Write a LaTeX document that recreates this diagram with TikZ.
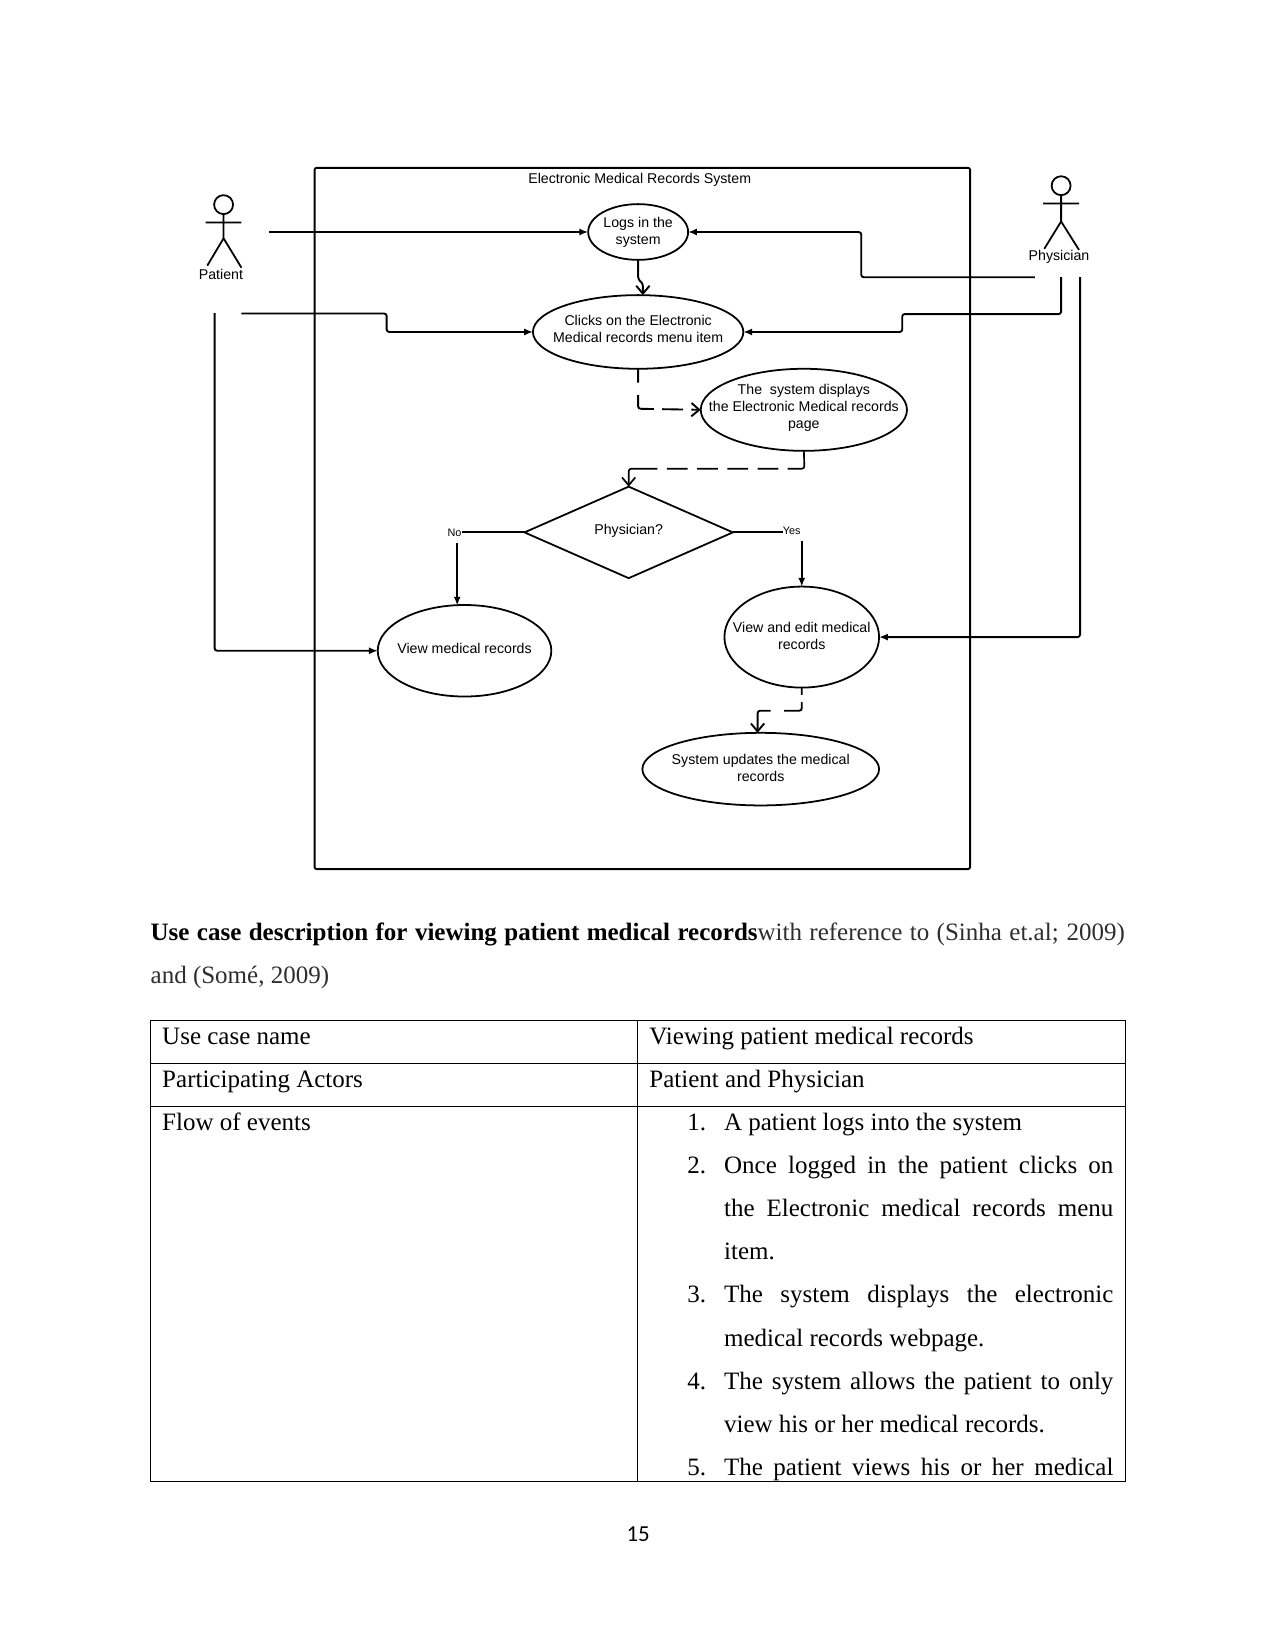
\documentclass[tikz,border=0pt]{standalone}
\usepackage{fontspec}
\usetikzlibrary{arrows.meta,shapes.geometric}
\setmainfont{Liberation Serif}
\newfontfamily\diagfont{Liberation Sans}
\newfontfamily\folio{Carlito}
\newlength\pxu
\setlength\pxu{0.50495pt}
\definecolor{bodygray}{HTML}{2E2E2E}
\tikzset{
  x=\pxu, y=-\pxu,
  diagline/.style={line width=0.9pt, rounded corners=1.2pt},
  caseshape/.style={draw, line width=0.85pt, ellipse, inner sep=0pt, outer sep=0pt},
  casetext/.style={font=\diagfont\fontsize{6.8}{8.1}\selectfont, align=center, inner sep=0pt},
  choicetext/.style={font=\diagfont\fontsize{5.2}{6}\selectfont, inner sep=0pt},
  solidhead/.style={-{Latex[length=4.2pt,width=3.4pt]}},
  openhead/.style={-{Straight Barb[length=3.8pt,width=6.4pt]}},
  bodyline/.style={anchor=base west, inner sep=0pt, xshift=-0.35pt, font=\fontsize{12}{14}\selectfont},
  rule/.style={line width=0.45pt},
}
\newcommand{\fullline}[1]{\makebox[370\pxu][s]{#1}}
\begin{document}
\begin{tikzpicture}
\useasboundingbox (-0.5,-0.5) rectangle (1211.5,1567.7);
\fill[white] (-0.5,-0.5) rectangle (1211.5,1567.7);

% System boundary
\draw[line width=0.9pt, rounded corners=1pt] (298.5,159) rectangle (921.5,825.5);
\node[casetext] (title) at (607.5,170.5) {Electronic Medical Records System};

% Use cases and the decision
\node[caseshape, minimum width=95\pxu, minimum height=53\pxu,
      label={[casetext,yshift=-0.2pt]center:Logs in the\\system}] (logs) at (606,220) {};
\node[caseshape, minimum width=200\pxu, minimum height=70\pxu,
      label={[casetext,yshift=1.3pt]center:Clicks on the Electronic\\Medical records menu item}] (clicks) at (606,315) {};
\node[caseshape, minimum width=196\pxu, minimum height=78\pxu,
      label={[casetext,yshift=0.9pt]center:The\ \ system displays\\the Electronic Medical records\\page}] (displays) at (763.5,389) {};
\node[draw, line width=0.85pt, diamond, aspect=2.276, inner sep=0pt, outer sep=0pt,
      minimum width=198\pxu, minimum height=87\pxu,
      label={[casetext,yshift=0.7pt]center:Physician?}] (choice) at (597,505.5) {};
\node[caseshape, minimum width=165\pxu, minimum height=87\pxu,
      label={[casetext,yshift=1.2pt]center:View medical records}] (viewonly) at (441,618) {};
\node[caseshape, minimum width=147\pxu, minimum height=96\pxu,
      label={[casetext,yshift=0.6pt]center:View and edit medical\\records}] (viewedit) at (761.5,605) {};
\node[caseshape, minimum width=225\pxu, minimum height=69\pxu,
      label={[casetext,yshift=0.7pt]center:System updates the medical\\records}] (updates) at (722.5,730.5) {};

% Branch labels
\node[choicetext] (no) at (431.5,506) {No};
\node[choicetext] (yes) at (752,504) {Yes};

% Patient actor
\node[draw, circle, line width=0.85pt, minimum size=18\pxu, inner sep=0pt, outer sep=0pt] (patienthead) at (212,194) {};
\node[casetext] (patient) at (209.5,260) {Patient};
\coordinate (patientarml) at (195,211);
\coordinate (patientarmr) at (229,211);
\coordinate (patienthip) at (212,226);
\coordinate (patientfootl) at (196.5,252);
\coordinate (patientfootr) at (229,254);
\draw[line width=0.85pt] (patienthead.south) -- (patienthip) (patientarml) -- (patientarmr)
  (patientfootl) -- (patienthip) -- (patientfootr);

% Physician actor
\node[draw, circle, line width=0.85pt, minimum size=18\pxu, inner sep=0pt, outer sep=0pt] (physicianhead) at (1008,176) {};
\node[casetext] (physician) at (1006,244) {Physician};
\coordinate (physarml) at (991,193);
\coordinate (physarmr) at (1025,193);
\coordinate (phyship) at (1008,210);
\coordinate (physfootl) at (992,236);
\coordinate (physfootr) at (1025,237);
\draw[line width=0.85pt] (physicianhead.south) -- (phyship) (physarml) -- (physarmr)
  (physfootl) -- (phyship) -- (physfootr);

% Free ends of the actor connectors
\coordinate (patientA) at (255,220);
\coordinate (patientB) at (229,297.5);
\coordinate (patientC) at (203.5,297);
\coordinate (physA) at (983,263);
\coordinate (physB) at (1008,263);
\coordinate (physC) at (1026,263);

% Actor connectors
\draw[diagline,solidhead] (patientA) -- (logs.west);
\draw[diagline,solidhead] (patientB) -- (367,297.5) -- (367,315) -- (clicks.west);
\draw[diagline,solidhead] (patientC) -- (203.5,618) -- (viewonly.west);
\draw[diagline,solidhead] (physA) -- (818,263) -- (818,220) -- (logs.east);
\draw[diagline,solidhead] (physB) -- (1008,298) -- (857,298) -- (857,315) -- (clicks.east);
\draw[diagline,solidhead] (physC) -- (1026,605) -- (viewedit.east);

% Flow between the use cases
\draw[diagline,openhead] (logs.south) -- (606,265) -- (610.5,269) -- (610.5,280);
\draw[diagline,openhead,dash pattern=on 6.6pt off 6pt on 13.6pt off 4pt on 10pt off 4pt on 8pt]
  (clicks.south) -- (606,388) -- (displays.west);
\draw[line width=0.8pt,rounded corners=1.2pt,openhead,dash pattern=on 16pt off 4.5pt on 10pt off 4.5pt on 10pt off 4.5pt on 10pt off 4.5pt on 10pt off 4.5pt on 30pt]
  (displays.south) -- (764,445) -- (597,445) -- (choice.north);
\draw[diagline,openhead,dash pattern=on 3.5pt off 3.5pt on 12pt off 6.5pt on 30pt]
  (viewedit.south) -- (761.5,675) -- (719.5,675) -- (719.5,696);

% Decision branches
\draw[diagline] (choice.west) -- (no.east |- choice.west);
\draw[diagline,solidhead] (434,516) -- (434,575);
\draw[diagline] (choice.east) -- (yes.west |- choice.east);
\draw[diagline,solidhead] (761.5,514) -- (viewedit.north);

% Heading paragraph
\node[bodyline] (headA) at (143,893) {\makebox[926\pxu][s]{\textbf{Use case description for viewing patient medical records}\textcolor{bodygray}{with reference to (Sinha et.al; 2009)}}};
\node[bodyline,text=bodygray] (headB) at (143,934) {and (Somé, 2009)};

% Table rules
\draw[rule] (142.7,969.5) rectangle (1068.7,1407.5);
\draw[rule] (142.7,1010.5) -- (1068.7,1010.5);
\draw[rule] (142.7,1051.5) -- (1068.7,1051.5);
\draw[rule] (605.7,969.5) -- (605.7,1407.5);

% Table cells
\node[bodyline] (c11) at (154,992.5) {Use case name};
\node[bodyline] (c12) at (617,992.5) {Viewing patient medical records};
\node[bodyline] (c21) at (154,1033.5) {Participating Actors};
\node[bodyline] (c22) at (617,1033.5) {Patient and Physician};
\node[bodyline] (c31) at (154,1074) {Flow of events};

% Numbered list
\node[bodyline] (n1) at (653,1074) {1.};
\node[bodyline] (l1) at (688,1074) {A patient logs into the system};
\node[bodyline] (n2) at (653,1115) {2.};
\node[bodyline] (l2) at (688,1115) {\fullline{Once logged in the patient clicks on}};
\node[bodyline] (l3) at (688,1156) {\fullline{the Electronic medical records menu}};
\node[bodyline] (l4) at (688,1197) {item.};
\node[bodyline] (n3) at (653,1237.5) {3.};
\node[bodyline] (l5) at (688,1237.5) {\fullline{The system displays the electronic}};
\node[bodyline] (l6) at (688,1279.5) {medical records webpage.};
\node[bodyline] (n4) at (653,1320.5) {4.};
\node[bodyline] (l7) at (688,1320.5) {\fullline{The system allows the patient to only}};
\node[bodyline] (l8) at (688,1361) {view his or her medical records.};
\node[bodyline] (n5) at (653,1402) {5.};
\node[bodyline] (l9) at (688,1402) {\fullline{The patient views his or her medical}};

% Page number
\node[inner sep=0pt, font=\folio\fontsize{11}{13}\selectfont] (pagenum) at (606,1457.5) {15};
\end{tikzpicture}
\end{document}
